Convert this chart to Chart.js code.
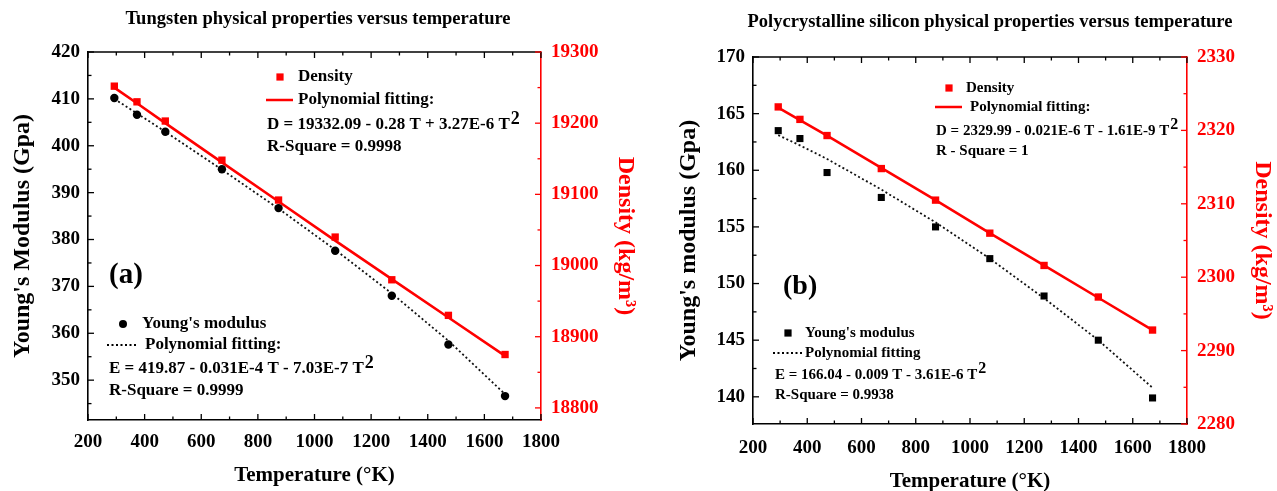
<!DOCTYPE html>
<html>
<head>
<meta charset="utf-8">
<script src="https://cdn.jsdelivr.net/npm/chart.js@4.4.0/dist/chart.umd.min.js"></script>
<style>
  html, body { margin: 0; padding: 0; background: #fff; }
  #wrap { position: relative; width: 1277px; height: 491px; }
  .box { position: absolute; top: 0; height: 491px; }
</style>
</head>
<body>
<div id="wrap">
  <div class="box" style="left:0;width:640px"><canvas id="chartA" width="640" height="491"></canvas></div>
  <div class="box" style="left:640px;width:637px"><canvas id="chartB" width="637" height="491"></canvas></div>
</div>
<script>
// temperatures (K) shared by both panels
const temps = [293, 373, 473, 673, 873, 1073, 1273, 1473, 1673];

// (a) tungsten
const wYoung    = [410.2, 406.6, 403.0, 395.0, 386.7, 377.6, 368.0, 357.6, 346.6];
const wYoungFit = [410.0, 406.9, 403.0, 394.9, 386.6, 377.8, 368.5, 358.4, 347.0];
const wDens     = [19252, 19230, 19203, 19148, 19092, 19040, 18980, 18930, 18875];
const wDensFit  = [19250, 19228, 19200, 19145, 19090, 19035, 18981, 18927, 18873];

// (b) polycrystalline silicon
const sYoung    = [163.5, 162.8, 159.8, 157.6, 155.0, 152.2, 148.9, 145.0, 139.9];
const sYoungFit = [163.1, 162.2, 161.0, 158.3, 155.4, 152.2, 148.7, 145.0, 140.8];
const sDens     = [2323.2, 2321.5, 2319.3, 2314.8, 2310.5, 2306.0, 2301.6, 2297.3, 2292.8];
const sDensFit  = [2323.1, 2321.4, 2319.3, 2314.9, 2310.5, 2306.0, 2301.6, 2297.2, 2292.8];

const FONT = "'Liberation Serif', 'Times New Roman', serif";
const RED = '#ff0000';

const pts = (xs, ys) => xs.map((x, i) => ({x: x, y: ys[i]}));

// inward ticks on every side, plus the top frame line
const innerTicks = {
  id: 'innerTicks',
  afterDraw(chart, args, o) {
    const {ctx, chartArea: a} = chart;
    ctx.save();
    ctx.strokeStyle = '#000';
    ctx.lineWidth = 1.6;
    ctx.beginPath(); ctx.moveTo(a.left, a.top); ctx.lineTo(a.right, a.top); ctx.stroke();
    o.axes.forEach(ax => {
      const s = chart.scales[ax.id];
      ctx.strokeStyle = ax.color;
      ctx.lineWidth = 1.3;
      for (let v = Math.ceil(s.min / ax.minor - 1e-9) * ax.minor; v <= s.max + 1e-9; v += ax.minor) {
        const major = Math.abs(v / ax.major - Math.round(v / ax.major)) < 1e-6;
        const len = major ? 6 : 3.5;
        const p = s.getPixelForValue(v);
        ctx.beginPath();
        if (s.axis === 'x') {
          ctx.moveTo(p, a.bottom); ctx.lineTo(p, a.bottom - len);
          ctx.moveTo(p, a.top); ctx.lineTo(p, a.top + len);
        } else if (s.position === 'left') {
          ctx.moveTo(a.left, p); ctx.lineTo(a.left + len, p);
        } else {
          ctx.moveTo(a.right, p); ctx.lineTo(a.right - len, p);
        }
        ctx.stroke();
      }
    });
    ctx.restore();
  }
};

// titles, in-plot legend and fit equations
const notes = {
  id: 'notes',
  afterDraw(chart, args, o) {
    const ctx = chart.ctx;
    ctx.save();
    o.items.forEach(it => {
      const size = it.size || o.size;
      ctx.fillStyle = it.color || '#000';
      ctx.strokeStyle = it.color || '#000';
      if (it.t === 'text') {
        ctx.font = 'bold ' + size + 'px ' + FONT;
        ctx.textAlign = it.align || 'left';
        ctx.textBaseline = 'middle';
        ctx.fillText(it.s, it.x, it.y);
        if (it.sup) {
          const w = ctx.measureText(it.s).width;
          ctx.font = 'bold ' + Math.round(size * 1.05) + 'px ' + FONT;
          ctx.fillText(it.sup, it.x + w + 1, it.y - 6);
        }
      } else if (it.t === 'square') {
        ctx.fillRect(it.x - it.r, it.y - it.r, it.r * 2, it.r * 2);
      } else if (it.t === 'circle') {
        ctx.beginPath(); ctx.arc(it.x, it.y, it.r, 0, Math.PI * 2); ctx.fill();
      } else if (it.t === 'line') {
        ctx.lineWidth = it.w || 2.5;
        ctx.setLineDash(it.dash || []);
        ctx.beginPath(); ctx.moveTo(it.x, it.y); ctx.lineTo(it.x2, it.y); ctx.stroke();
        ctx.setLineDash([]);
      }
    });
    ctx.restore();
  }
};

function makeChart(id, c) {
  const tickFont = {family: FONT, size: 19, weight: 'bold'};
  const xTitleFont = {family: FONT, size: 21, weight: 'bold', lineHeight: 1.2};
  const yTitleFont = {family: FONT, size: 24, weight: 'bold', lineHeight: 1.2};
  const plain = v => String(v);
  const keep = step => s => {
    s.ticks = s.ticks.filter(t => Math.abs(t.value / step - Math.round(t.value / step)) < 1e-6);
  };
  return new Chart(document.getElementById(id), {
    type: 'scatter',
    data: {
      datasets: [
        {data: pts(temps, c.densFit), yAxisID: 'y1', showLine: true, borderColor: RED, borderWidth: 2.6,
         pointRadius: 0, order: 3},
        {data: pts(temps, c.dens), yAxisID: 'y1', pointStyle: 'rect', pointRadius: 5.2,
         backgroundColor: RED, borderColor: RED, borderWidth: 0, order: 1},
        {data: pts(temps, c.youngFit), yAxisID: 'y', showLine: true, borderColor: '#111', borderWidth: 1.8,
         borderDash: [2, 2.5], pointRadius: 0, order: 4},
        {data: pts(temps, c.young), yAxisID: 'y', pointStyle: c.youngStyle, pointRadius: c.youngRadius,
         backgroundColor: '#000', borderColor: '#000', borderWidth: 0, order: 2}
      ]
    },
    options: {
      responsive: false,
      animation: false,
      layout: {padding: {top: c.top, left: 0, right: 0, bottom: 0}},
      plugins: {
        legend: {display: false},
        tooltip: {enabled: false},
        innerTicks: {axes: [
          {id: 'x', major: 200, minor: 100, color: '#000'},
          {id: 'y', major: c.yStep, minor: c.yStep / 2, color: '#000'},
          {id: 'y1', major: c.y1Step, minor: c.y1Step / 2, color: RED}
        ]},
        notes: {items: c.notes, size: c.noteSize}
      },
      scales: {
        x: {
          type: 'linear', min: 200, max: 1800,
          ticks: {stepSize: 200, font: tickFont, color: '#000', padding: c.xPad, maxRotation: 0, callback: plain},
          grid: {drawOnChartArea: false, drawTicks: false},
          border: {display: true, color: '#000', width: 1.6},
          title: {display: true, text: 'Temperature (°K)', font: xTitleFont, color: '#000',
                  padding: {top: 0, bottom: c.xTitlePad}},
          afterFit: s => { s.height = c.xH; }
        },
        y: {
          position: 'left', min: c.yMin, max: c.yMax,
          ticks: {stepSize: c.yStep, includeBounds: false, font: tickFont, color: '#000', padding: 8, callback: plain},
          afterBuildTicks: keep(c.yStep),
          grid: {drawOnChartArea: false, drawTicks: false},
          border: {display: true, color: '#000', width: 1.6},
          title: {display: true, text: c.yTitle, font: yTitleFont, color: '#000',
                  padding: {top: c.yTitlePad, bottom: 0}},
          afterFit: s => { s.width = c.yW; }
        },
        y1: {
          position: 'right', min: c.y1Min, max: c.y1Max,
          ticks: {stepSize: c.y1Step, includeBounds: false, font: tickFont, color: RED, padding: 10, callback: plain},
          afterBuildTicks: keep(c.y1Step),
          grid: {drawOnChartArea: false, drawTicks: false},
          border: {display: true, color: RED, width: 1.6},
          title: {display: true, text: 'Density (kg/m³)', font: yTitleFont, color: RED,
                  padding: {top: c.y1TitlePad, bottom: 0}},
          afterFit: s => { s.width = c.y1W; }
        }
      }
    },
    plugins: [innerTicks, notes]
  });
}

makeChart('chartA', {
  young: wYoung, youngFit: wYoungFit, dens: wDens, densFit: wDensFit,
  youngStyle: 'circle', youngRadius: 4.2,
  top: 52, xH: 71, yW: 88, y1W: 99, xPad: 11, xTitlePad: 3, yTitlePad: 8, y1TitlePad: 0,
  yMin: 341.5, yMax: 420, yStep: 10, y1Min: 18783, y1Max: 19300, y1Step: 100,
  yTitle: "Young's Modulus (Gpa)", noteSize: 17,
  notes: [
    {t: 'text', s: 'Tungsten physical properties versus temperature', x: 318, y: 19, size: 18.5, align: 'center'},
    {t: 'square', x: 280, y: 77, r: 3.6, color: RED},
    {t: 'text', s: 'Density', x: 298, y: 77},
    {t: 'line', x: 266, x2: 293, y: 100, color: RED},
    {t: 'text', s: 'Polynomial fitting:', x: 298, y: 100},
    {t: 'text', s: 'D = 19332.09 - 0.28 T + 3.27E-6 T', sup: '2', x: 267, y: 125},
    {t: 'text', s: 'R-Square = 0.9998', x: 267, y: 147},
    {t: 'text', s: '(a)', x: 109, y: 276, size: 29},
    {t: 'circle', x: 123, y: 324, r: 4},
    {t: 'text', s: "Young's modulus", x: 142, y: 324},
    {t: 'line', x: 107, x2: 137, y: 345, w: 1.8, dash: [2, 2.5]},
    {t: 'text', s: 'Polynomial fitting:', x: 145, y: 345},
    {t: 'text', s: 'E = 419.87 - 0.031E-4 T - 7.03E-7 T', sup: '2', x: 109, y: 369},
    {t: 'text', s: 'R-Square = 0.9999', x: 109, y: 391}
  ]
});

makeChart('chartB', {
  young: sYoung, youngFit: sYoungFit, dens: sDens, densFit: sDensFit,
  youngStyle: 'rect', youngRadius: 5,
  top: 57, xH: 67, yW: 113, y1W: 90, xPad: 13, xTitlePad: -3, yTitlePad: 34, y1TitlePad: 0,
  yMin: 137.6, yMax: 170, yStep: 5, y1Min: 2280, y1Max: 2330, y1Step: 10,
  yTitle: "Young's modulus (Gpa)", noteSize: 15,
  notes: [
    {t: 'text', s: 'Polycrystalline silicon physical properties versus temperature', x: 350, y: 22, size: 18.5, align: 'center'},
    {t: 'square', x: 309, y: 88, r: 3.6, color: RED},
    {t: 'text', s: 'Density', x: 326, y: 88},
    {t: 'line', x: 295, x2: 322, y: 107, color: RED},
    {t: 'text', s: 'Polynomial fitting:', x: 330, y: 107},
    {t: 'text', s: 'D = 2329.99 - 0.021E-6 T - 1.61E-9 T', sup: '2', x: 296, y: 131},
    {t: 'text', s: 'R - Square = 1', x: 296, y: 151},
    {t: 'text', s: '(b)', x: 143, y: 287, size: 28},
    {t: 'square', x: 148, y: 333, r: 3.6},
    {t: 'text', s: "Young's modulus", x: 165, y: 333},
    {t: 'line', x: 133, x2: 162, y: 353, w: 1.8, dash: [2, 2.5]},
    {t: 'text', s: 'Polynomial fitting', x: 165, y: 353},
    {t: 'text', s: 'E = 166.04 - 0.009 T - 3.61E-6 T', sup: '2', x: 135, y: 375},
    {t: 'text', s: 'R-Square = 0.9938', x: 135, y: 395}
  ]
});
</script>
</body>
</html>
